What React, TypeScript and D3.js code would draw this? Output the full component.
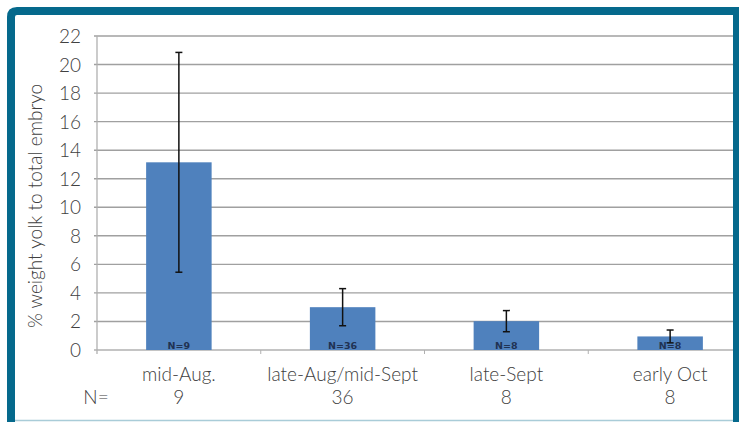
import { useEffect, useRef } from 'react';
import * as d3 from 'd3';

const categories = ['mid-Aug.', 'late-Aug/mid-Sept', 'late-Sept', 'early Oct'];
const counts = [9, 36, 8, 8];
const means = [13.15, 3.0, 2.02, 0.95];
const errors = [7.7, 1.3, 0.74, 0.45];
const yTicks = [0, 2, 4, 6, 8, 10, 12, 14, 16, 18, 20, 22];

export default function App() {
  const svgRef = useRef<SVGSVGElement>(null);

  useEffect(() => {
    document.body.style.margin = '0';
    if (!svgRef.current) return;

    const svg = d3.select(svgRef.current);
    svg.selectAll('*').remove();

    const width = 739;
    const height = 422;
    const teal = '#05698c';
    const textColor = '#404040';
    const font = 'Lato, "Open Sans", sans-serif';
    const fontSize = '19px';

    const defs = svg.append('defs');
    defs.append('clipPath')
      .attr('id', 'frame-clip')
      .append('rect')
      .attr('x', 15)
      .attr('y', 15)
      .attr('width', 720)
      .attr('height', 405);

    svg.append('rect')
      .attr('width', width)
      .attr('height', height)
      .attr('fill', '#fff');

    // plot area runs past the right frame, so it gets clipped like the original
    const x = d3.scaleBand<string>()
      .domain(categories)
      .range([97, 752])
      .paddingInner(0.6)
      .paddingOuter(0.3);
    const xStep = x.step();

    const y = d3.scaleLinear()
      .domain([0, 22])
      .range([350, 36]);

    const g = svg.append('g').attr('clip-path', 'url(#frame-clip)');

    // gridlines
    g.selectAll('line.grid')
      .data(yTicks.filter((d) => d > 0))
      .join('line')
      .attr('class', 'grid')
      .attr('x1', 94)
      .attr('x2', 752)
      .attr('y1', (d) => y(d))
      .attr('y2', (d) => y(d))
      .attr('stroke', '#a0a0a0')
      .attr('stroke-width', 1.4);

    // y axis line
    g.append('line')
      .attr('x1', 97)
      .attr('x2', 97)
      .attr('y1', y(22))
      .attr('y2', y(0) + 4)
      .attr('stroke', '#b0b0b0')
      .attr('stroke-width', 1.3);

    // x axis line + category ticks
    g.append('line')
      .attr('x1', 94)
      .attr('x2', 752)
      .attr('y1', y(0))
      .attr('y2', y(0))
      .attr('stroke', '#b0b0b0')
      .attr('stroke-width', 1.3);

    g.selectAll('line.xtick')
      .data(d3.range(1, categories.length))
      .join('line')
      .attr('class', 'xtick')
      .attr('x1', (i) => 97 + i * xStep)
      .attr('x2', (i) => 97 + i * xStep)
      .attr('y1', y(0))
      .attr('y2', y(0) + 4)
      .attr('stroke', '#b0b0b0')
      .attr('stroke-width', 1);

    // y tick labels
    svg.selectAll('text.ytick')
      .data(yTicks)
      .join('text')
      .attr('class', 'ytick')
      .attr('x', 81)
      .attr('y', (d) => y(d) + 7)
      .attr('text-anchor', 'end')
      .attr('fill', textColor)
      .attr('font-family', font)
      .attr('font-weight', 300)
      .attr('font-size', fontSize)
      .text((d) => d);

    // bars
    g.selectAll('rect.bar')
      .data(categories)
      .join('rect')
      .attr('class', 'bar')
      .attr('x', (d) => x(d)!)
      .attr('width', x.bandwidth())
      .attr('y', (_, i) => y(means[i]))
      .attr('height', (_, i) => y(0) - y(means[i]))
      .attr('fill', '#4f81bd');

    // error bars
    const cx = (d: string) => x(d)! + x.bandwidth() / 2;
    const err = g.selectAll('g.err')
      .data(categories)
      .join('g')
      .attr('class', 'err')
      .attr('stroke', '#111')
      .attr('stroke-width', 1.5);

    err.append('line')
      .attr('x1', cx)
      .attr('x2', cx)
      .attr('y1', (_, i) => y(means[i] + errors[i]))
      .attr('y2', (_, i) => y(means[i] - errors[i]));
    err.append('line')
      .attr('x1', (d) => cx(d) - 3.5)
      .attr('x2', (d) => cx(d) + 3.5)
      .attr('y1', (_, i) => y(means[i] + errors[i]))
      .attr('y2', (_, i) => y(means[i] + errors[i]));
    err.append('line')
      .attr('x1', (d) => cx(d) - 3.5)
      .attr('x2', (d) => cx(d) + 3.5)
      .attr('y1', (_, i) => y(means[i] - errors[i]))
      .attr('y2', (_, i) => y(means[i] - errors[i]));

    // N= labels inside the bars
    g.selectAll('text.nlabel')
      .data(categories)
      .join('text')
      .attr('class', 'nlabel')
      .attr('x', cx)
      .attr('y', y(0) - 1.5)
      .attr('text-anchor', 'middle')
      .attr('fill', '#1f3253')
      .attr('font-family', '"DejaVu Sans", sans-serif')
      .attr('font-weight', 'bold')
      .attr('font-size', '9.5px')
      .text((_, i) => `N=${counts[i]}`);

    // category labels and counts
    svg.selectAll('text.cat')
      .data(categories)
      .join('text')
      .attr('class', 'cat')
      .attr('x', cx)
      .attr('y', 381)
      .attr('text-anchor', 'middle')
      .attr('fill', textColor)
      .attr('font-family', font)
      .attr('font-weight', 300)
      .attr('font-size', fontSize)
      .text((d) => d);

    svg.selectAll('text.count')
      .data(categories)
      .join('text')
      .attr('class', 'count')
      .attr('x', cx)
      .attr('y', 404)
      .attr('text-anchor', 'middle')
      .attr('fill', textColor)
      .attr('font-family', font)
      .attr('font-weight', 300)
      .attr('font-size', fontSize)
      .text((_, i) => counts[i]);

    svg.append('text')
      .attr('x', 96)
      .attr('y', 404)
      .attr('text-anchor', 'middle')
      .attr('fill', textColor)
      .attr('font-family', font)
      .attr('font-weight', 300)
      .attr('font-size', fontSize)
      .text('N=');

    // y axis title
    svg.append('text')
      .attr('transform', 'translate(42,206) rotate(-90)')
      .attr('text-anchor', 'middle')
      .attr('fill', textColor)
      .attr('font-family', font)
      .attr('font-weight', 300)
      .attr('font-size', fontSize)
      .text('% weight yolk to total embryo');

    // teal frame
    svg.append('line')
      .attr('x1', 15)
      .attr('x2', 735)
      .attr('y1', 420.5)
      .attr('y2', 420.5)
      .attr('stroke', '#a9ccd8')
      .attr('stroke-width', 1.5);

    svg.append('path')
      .attr('d', 'M11,430 L11,17 Q11,11 17,11 L737,11 L737,430')
      .attr('fill', 'none')
      .attr('stroke', teal)
      .attr('stroke-width', 8);
  }, []);

  return <svg ref={svgRef} width={739} height={422} style={{ display: 'block' }} />;
}
